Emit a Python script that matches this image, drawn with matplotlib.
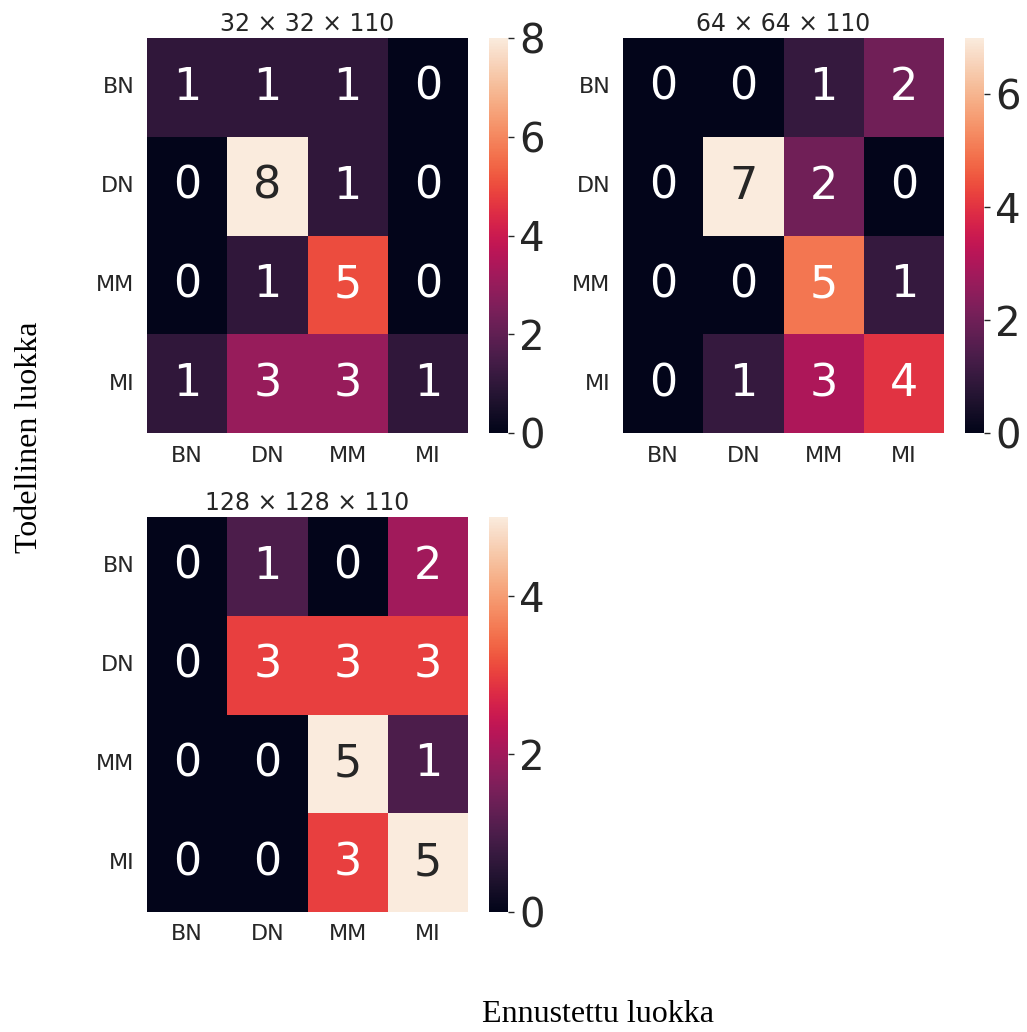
import numpy as np
import matplotlib
matplotlib.use("Agg")
import matplotlib.pyplot as plt
import seaborn as sns

labels = ["BN", "DN", "MM", "MI"]
titles = [r"32 × 32 × 110", r"64 × 64 × 110", r"128 × 128 × 110"]

cm_32 = [[1, 1, 1, 0],
         [0, 8, 1, 0],
         [0, 1, 5, 0],
         [1, 3, 3, 1]]
cm_64 = [[0, 0, 1, 2],
         [0, 7, 2, 0],
         [0, 0, 5, 1],
         [0, 1, 3, 4]]
cm_128 = [[0, 1, 0, 2],
          [0, 3, 3, 3],
          [0, 0, 5, 1],
          [0, 0, 3, 5]]
cbar_ticks = [[0, 2, 4, 6, 8], [0, 2, 4, 6], [0, 2, 4]]


def main():
    W, H = 1027, 1032
    fig = plt.figure(figsize=(W / 100, H / 100), dpi=100)

    # pixel boxes: (left, top, right, bottom)
    heat_boxes = [(147, 38, 468, 433), (623, 38, 944, 433), (147, 517, 468, 912)]

    def ax_px(l, t, r, b):
        return fig.add_axes([l / W, 1 - b / H, (r - l) / W, (b - t) / H])

    for cm, title, ticks, (l, t, r, b) in zip([cm_32, cm_64, cm_128], titles,
                                              cbar_ticks, heat_boxes):
        ax = ax_px(l, t, r, b)
        cax = ax_px(r + 21, t, r + 40, b)
        sns.heatmap(np.array(cm), annot=True, fmt="d", ax=ax, cbar_ax=cax,
                    annot_kws={"fontsize": 32},
                    xticklabels=labels, yticklabels=labels)
        ax.set_title(title, fontsize=17, color="#262626", pad=5)
        ax.tick_params(axis="both", length=0, labelsize=16, colors="#262626", pad=9)
        ax.set_yticklabels(labels, rotation=0)
        cax.set_yticks(ticks)
        cax.tick_params(labelsize=29, colors="#262626", length=4, width=1, pad=4)
        for sp in cax.spines.values():
            sp.set_visible(False)

    fig.text(598 / W, 1 - 1014 / H, "Ennustettu luokka", ha="center", va="center",
             fontsize=23, family="Liberation Serif")
    fig.text(30 / W, 1 - 437 / H, "Todellinen luokka", ha="center", va="center",
             rotation=90, fontsize=23, family="Liberation Serif")

    fig.savefig("out.png", dpi=100)
    plt.close(fig)


if __name__ == "__main__":
    main()
